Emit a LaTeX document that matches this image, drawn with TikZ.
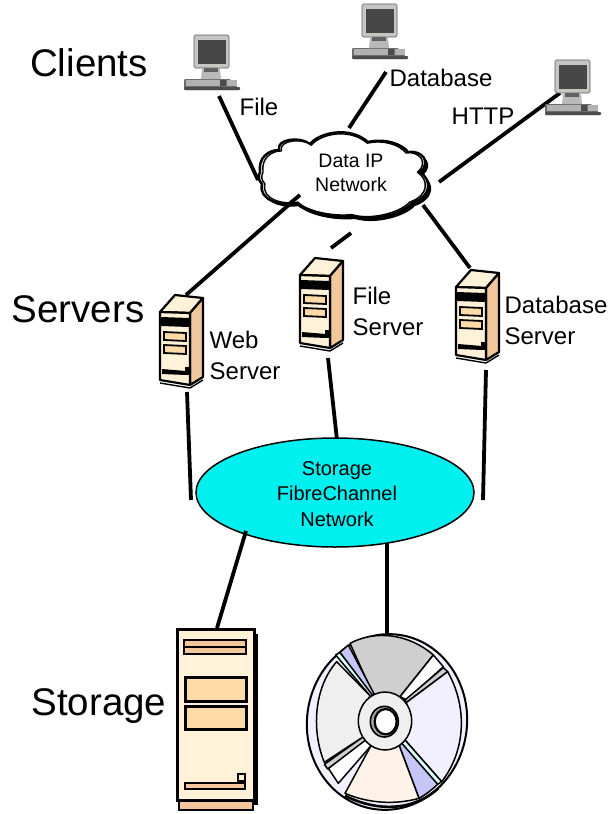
\documentclass[tikz,border=0pt]{standalone}
\usepackage{fontspec}
\usetikzlibrary{shapes.geometric}
\setmainfont{Liberation Sans}
\definecolor{cream}{HTML}{FFF2D9}
\definecolor{peach}{HTML}{FFDBA8}
\definecolor{tanb}{HTML}{F2C79B}
\definecolor{cdlav}{HTML}{F2EFFF}
\definecolor{cdblue}{HTML}{C6C6F8}
\definecolor{cdcyan}{HTML}{D8FFF8}
\definecolor{cdgray}{HTML}{CFCFCF}
\definecolor{cdlight}{HTML}{EFEFEF}
\definecolor{cdpeach}{HTML}{FFF2E8}
\definecolor{fccyan}{HTML}{00F0F0}
\tikzset{
  big/.style={font=\fontsize{38.5}{40}\selectfont,inner sep=0pt,anchor=center},
  lab/.style={font=\fontsize{24}{31}\selectfont,inner sep=0pt,align=left},
  small/.style={font=\fontsize{20}{25.5}\selectfont,inner sep=0pt,align=center},
  conn/.style={line width=3.8pt,black},
  cdl/.style={draw=black,line width=1.5pt,line join=round},
  pics/client/.style={code={
    \fill[gray!85!black,rounded corners=1pt] (-10,44) -- (36,44) -- (46,55) -- (-10,55) -- cycle;
    \fill[black!70,rounded corners=1pt] (-10,52) rectangle (46,55);
    \fill[gray!60] (-8,45) rectangle (26,51);
    \fill[black!70] (26,45) rectangle (32,51);
    \fill[gray!60] (33,45) rectangle (43,51);
    \fill[gray!55] (8,34) -- (26,34) -- (27,44) -- (7,44) -- cycle;
    \fill[gray!75!black] (10,33) rectangle (24,37);
    \filldraw[draw=gray!70!black,fill=gray!45,rounded corners=1.5pt,line width=.6pt] (0,0) rectangle (35,33);
    \fill[black!72] (4,5) rectangle (32,29);
    \fill[cream!60!gray] (4,29) rectangle (32,30);
  }},
  pics/srv/.style={code={
    \filldraw[draw=black,fill=cream,line width=2.2pt,line join=round] (0,17) -- (15,0) -- (43,3) -- (30,18) -- cycle;
    \filldraw[draw=black,fill=tanb,line width=2.2pt,line join=round] (30,18) -- (43,3) -- (43,82) -- (30,90) -- cycle;
    \filldraw[draw=black,fill=cream,line width=2.2pt,line join=round] (0,17) -- (30,18) -- (30,90) -- (0,85) -- cycle;
    \fill[black] (1,22) -- (29,23) -- (29,32) -- (1,31) -- cycle;
    \filldraw[draw=black,fill=peach,line width=1.8pt] (4,37) -- (26,38) -- (26,46) -- (4,45) -- cycle;
    \filldraw[draw=black,fill=peach,line width=1.8pt] (4,50) -- (26,51) -- (26,59) -- (4,58) -- cycle;
    \fill[black] (2,74) -- (26,76) -- (26,80) -- (2,79) -- cycle;
    \fill[black] (25,72) rectangle (29,80);
    \draw[black,line width=1.4pt] (0,88) -- (30,93);
    \draw[black,line width=1.4pt] (30,93) -- (43,85);
  }}
}
\begin{document}
\begin{tikzpicture}[x=1pt,y=-1pt]
\useasboundingbox (0,0) rectangle (612,814);
\fill[white] (0,0) rectangle (612,814);

\coordinate (fileC) at (219,96);
\coordinate (fileN) at (258,180);
\coordinate (dbC) at (386,72);
\coordinate (dbN) at (349,128);
\coordinate (httpC) at (560,93);
\coordinate (httpN) at (439,182);
\coordinate (webN) at (300,195);
\coordinate (webS) at (186,295);
\coordinate (fsN) at (351,233);
\coordinate (fsS) at (331,248);
\coordinate (dsN) at (423,205);
\coordinate (dsS) at (470,268);
\coordinate (webD) at (187,392);
\coordinate (webF) at (191,500);
\coordinate (fsD) at (328,358);
\coordinate (fsF) at (337,440);
\coordinate (dsD) at (486,370);
\coordinate (dsF) at (483,500);
\coordinate (fcA) at (246,531);
\coordinate (stT) at (217,628);
\coordinate (fcB) at (387,543);
\coordinate (cdT) at (387,633);

\draw[conn] (dbC) -- (dbN);
\draw[conn] (fsN) -- (fsS);
\draw[conn] (webD) -- (webF);
\draw[conn] (fsD) -- (fsF);
\draw[conn] (dsD) -- (dsF);
\draw[conn] (fileC) -- (fileN);
\draw[conn] (httpC) -- (httpN);
\draw[conn] (dsN) -- (dsS);
\draw[conn] (webN) -- (webS);

\pic at (194,35) {client};
\pic at (362,4) {client};
\pic at (555,60) {client};

\def\cloudpath{(260,172) .. controls (258,158) and (268,150) .. (279,150)
 .. controls (276,139) and (300,136) .. (310,144)
 .. controls (320,132) and (350,126) .. (368,142)
 .. controls (385,138) and (402,144) .. (408,152)
 .. controls (422,150) and (432,162) .. (420,172)
 .. controls (432,180) and (432,196) .. (412,203)
 .. controls (402,214) and (372,222) .. (352,216)
 .. controls (330,218) and (305,212) .. (296,203)
 .. controls (280,206) and (258,200) .. (262,184)
 .. controls (258,180) and (258,176) .. (260,172) -- cycle}
\fill[black,xshift=3pt,yshift=-3pt] \cloudpath;
\filldraw[draw=black,fill=gray!25,line width=2.4pt,line join=round] \cloudpath;
\begin{scope}[shift={(347,177)},scale=0.965,shift={(-347,-177)}]
\filldraw[draw=black,fill=white,line width=1.4pt,line join=round] \cloudpath;
\end{scope}
\draw[conn] (webN) -- (288,205);
\node[font=\fontsize{19.5}{23.5}\selectfont,inner sep=0pt,align=center] (ipnet) at (351,173) {Data IP\\Network};

\pic at (160,295) {srv};
\pic at (300,258) {srv};
\pic at (456,270) {srv};

\node[draw=black,line width=1.5pt,fill=fccyan,ellipse,inner sep=0pt,minimum width=278pt,minimum height=109pt] (fc) at (335,492.5) {};
\node[small] (fclabel) at (337,494) {Storage\\FibreChannel\\Network};
\draw[conn] (fcA) -- (stT);
\draw[conn] (fcB) -- (cdT);

\fill[black] (253,634) rectangle (258,805);
\filldraw[draw=black,fill=tanb,line width=1.4pt] (179,798) rectangle (253,810);
\filldraw[draw=black,fill=cream,line width=3pt] (177,629) rectangle (254,800);
\filldraw[draw=black,fill=tanb,line width=2.4pt] (184,640) rectangle (246,654);
\draw[black,line width=2.4pt] (184,647) -- (246,647);
\filldraw[draw=black,fill=peach,line width=3pt] (185,677) rectangle (246,701);
\filldraw[draw=black,fill=peach,line width=3pt] (185,706) rectangle (246,729);
\filldraw[draw=black,fill=cream,line width=2pt] (238,774) rectangle (245,781);
\filldraw[draw=black,fill=tanb,line width=1.8pt] (185,783) rectangle (245,789);

\filldraw[draw=black,fill=cdlav,line width=2pt,rotate around={-8:(387,722)}] (387,722) ellipse (80 and 88);
\begin{scope}[shift={(295,625)},x=1/3*1pt,y=-1/3*1pt]
\draw[black,line width=2.6pt] (150,512) .. controls (240,558) and (350,562) .. (430,490);
\filldraw[cdl,fill=cdgray] (165,55) .. controls (240,15) and (340,25) .. (415,90) -- (315,215) -- (235,210) -- cycle;
\filldraw[cdl,fill=white] (415,90) -- (445,125) -- (335,225) -- (315,215) -- cycle;
\filldraw[cdl,fill=cdgray] (445,128) -- (458,140) -- (335,232) -- (330,225) -- cycle;
\filldraw[cdl,fill=cdlav] (458,140) .. controls (520,250) and (510,380) .. (440,470) -- (330,345) -- (335,232) -- cycle;
\filldraw[cdl,fill=cdcyan] (440,470) -- (428,478) -- (315,355) -- (330,345) -- cycle;
\filldraw[cdl,fill=cdblue] (428,478) .. controls (410,495) and (390,510) .. (372,520) -- (312,360) -- (318,352) -- cycle;
\filldraw[cdl,fill=cdpeach] (372,520) .. controls (300,540) and (220,535) .. (150,505) -- (228,362) -- (312,360) -- cycle;
\filldraw[cdl,fill=white] (228,362) -- (130,475) -- (100,430) -- (212,340) -- cycle;
\filldraw[cdl,fill=cdgray] (205,335) -- (88,418) -- (98,432) -- (212,345) -- cycle;
\filldraw[cdl,fill=cdlight] (88,412) .. controls (50,320) and (55,190) .. (125,110) -- (225,212) -- (195,290) -- (205,335) -- cycle;
\filldraw[cdl,fill=cdcyan] (122,90) -- (135,82) -- (235,210) -- (225,212) -- cycle;
\filldraw[cdl,fill=cdblue] (135,82) -- (160,60) -- (238,208) -- (232,210) -- cycle;
\filldraw[cdl,fill=cdlight] (270,288) ellipse (80 and 87);
\filldraw[draw=black,fill=gray!70,line width=1.6pt] (268,290) ellipse (42 and 46);
\filldraw[draw=black,fill=white,line width=2.2pt] (272,290) ellipse (33 and 38);
\end{scope}

\node[big] (clients) at (89,63) {Clients};
\node[big] (servers) at (78,309) {Servers};
\node[big] (storage) at (99,706) {Storage};
\node[lab] (tfile) at (259,107) {File};
\node[lab] (tdb) at (441,78) {Database};
\node[lab] (thttp) at (483,116) {HTTP};
\node[lab] (tweb) at (245,355) {Web\\Server};
\node[lab] (tfs) at (388,311) {File\\Server};
\node[lab] (tds) at (556,320) {Database\\Server};
\end{tikzpicture}
\end{document}
